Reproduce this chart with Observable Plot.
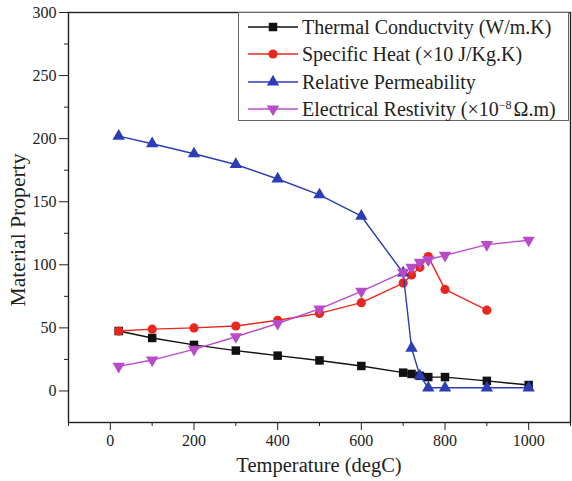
<!DOCTYPE html>
<html><head><meta charset="utf-8">
<script src="https://cdn.jsdelivr.net/npm/d3@7"></script>
<script src="https://cdn.jsdelivr.net/npm/@observablehq/plot@0.6"></script>
<style>
body{margin:0;background:#fff;}
#wrap{position:relative;width:572px;height:481px;font-family:"Liberation Serif","Times New Roman",serif;color:#222;}
#wrap svg text{font-family:"Liberation Serif","Times New Roman",serif;}
#legend{position:absolute;left:238px;top:12px;width:331px;height:109px;border:1px solid #666;box-sizing:border-box;background:#fff;padding-top:0px;}
.row{display:flex;align-items:center;height:27.5px;font-size:20px;white-space:nowrap;line-height:20px;}
.row svg{margin-left:9px;margin-right:4px;flex:none;}
.row sup{font-size:12px;line-height:0;vertical-align:7px;margin-right:2px;}
#xtitle{position:absolute;left:68px;width:502px;top:453px;text-align:center;font-size:20.5px;line-height:24px;}
#ytitle{position:absolute;left:18px;top:230px;font-size:20px;transform:translate(-50%,-50%) rotate(-90deg) scaleX(1.08);white-space:nowrap;}
</style></head><body><div id="wrap"></div>
<script>
// Series data
const seriesNames = ["Thermal Conductvity (W/m.K)", "Specific Heat (×10 J/Kg.K)", "Relative Permeability", "Electrical Restivity (×10<sup>−8</sup>Ω.m)"];
const seriesColors = ["#111111", "#e8281f", "#2c3db5", "#b84cc8"];

const thermalT = [20, 100, 200, 300, 400, 500, 600, 700, 720, 740, 760, 800, 900, 1000];
const thermalV = [47.5, 42, 36.5, 32, 28, 24.2, 19.8, 14.5, 13.5, 12, 11, 11, 8, 4.7];

const heatT = [20, 100, 200, 300, 400, 500, 600, 700, 720, 740, 760, 800, 900];
const heatV = [47.5, 49, 50, 51.5, 56, 61.5, 70, 85.5, 92, 98, 106.5, 80.5, 64];

const permT = [20, 100, 200, 300, 400, 500, 600, 700, 720, 740, 760, 800, 900, 1000];
const permV = [202, 196, 188, 179.5, 168, 155.5, 138.5, 93.5, 34, 12, 2.5, 2.5, 2.5, 2.5];

const resT = [20, 100, 200, 300, 400, 500, 600, 700, 720, 740, 760, 800, 900, 1000];
const resV = [19.5, 24.5, 33, 43, 53.5, 65, 79, 94, 98, 102, 104, 107.5, 116, 119.5];

const xMajorTicks = [0, 200, 400, 600, 800, 1000];
const xMinorTicks = [-100, 100, 300, 500, 700, 900, 1100];
const yMajorTicks = [0, 50, 100, 150, 200, 250, 300];
const yMinorTicks = [25, 75, 125, 175, 225, 275];

const triangleDown = {
  draw(context, size) {
    const s3 = Math.sqrt(3);
    const y = Math.sqrt(size / (s3 * 3));
    context.moveTo(0, y * 2);
    context.lineTo(-s3 * y, -y);
    context.lineTo(s3 * y, -y);
    context.closePath();
  }
};
const symbols = ["square", "circle", "triangle", triangleDown];
const radii = [4.8, 4.6, 4.6, 4.6];

const toRows = (T, V) => T.map((t, i) => ({t, v: V[i]}));
const series = [toRows(thermalT, thermalV), toRows(heatT, heatV), toRows(permT, permV), toRows(resT, resV)];

const marks = [];
series.forEach((rows, i) => {
  marks.push(Plot.line(rows, {x: "t", y: "v", stroke: seriesColors[i], strokeWidth: 1.4}));
  marks.push(Plot.dot(rows, {x: "t", y: "v", symbol: () => symbols[i], fill: seriesColors[i], stroke: "none", r: radii[i]}));
});

const fmt = d3.format("d");
const serif = "'Liberation Serif', 'Times New Roman', serif";
const chart = Plot.plot({
  width: 572, height: 481,
  marginLeft: 68, marginRight: 2, marginTop: 12, marginBottom: 59,
  style: {fontFamily: serif, fontSize: "16px", color: "#222", background: "#fff"},
  x: {domain: [-100, 1100]},
  y: {domain: [-25, 300]},
  symbol: {type: "identity"},
  marks: [
    Plot.axisX({ticks: xMajorTicks, tickSize: 8, tickPadding: 4, fontSize: 16, fontFamily: serif, tickFormat: fmt, label: null}),
    Plot.axisX({ticks: xMinorTicks, tickSize: 4, tickFormat: () => "", label: null}),
    Plot.axisY({ticks: yMajorTicks, tickSize: 9, tickPadding: 3, fontSize: 16, fontFamily: serif, tickFormat: fmt, label: null}),
    Plot.axisY({ticks: yMinorTicks, tickSize: 4, tickFormat: () => "", label: null}),
    ...marks,
    Plot.frame({stroke: "#222", strokeWidth: 1.4})
  ]
});

const wrap = document.getElementById("wrap");
wrap.appendChild(chart);

const xt = document.createElement("div"); xt.id = "xtitle"; xt.textContent = "Temperature (degC)"; wrap.appendChild(xt);
const yt = document.createElement("div"); yt.id = "ytitle"; yt.textContent = "Material Property"; wrap.appendChild(yt);

const legend = document.createElement("div"); legend.id = "legend"; wrap.appendChild(legend);
seriesNames.forEach((name, i) => {
  const row = document.createElement("div"); row.className = "row";
  const svg = d3.create("svg").attr("width", 50).attr("height", 14);
  svg.append("line").attr("x1", 0).attr("x2", 50).attr("y1", 7).attr("y2", 7).attr("stroke", seriesColors[i]).attr("stroke-width", 1.4);
  const symType = typeof symbols[i] === "string" ? {square: d3.symbolSquare, circle: d3.symbolCircle, triangle: d3.symbolTriangle}[symbols[i]] : symbols[i];
  svg.append("path").attr("transform", "translate(25,7)").attr("d", d3.symbol(symType, radii[i] * radii[i] * Math.PI)()).attr("fill", seriesColors[i]);
  row.appendChild(svg.node());
  const span = document.createElement("span"); span.innerHTML = name;
  row.appendChild(span);
  legend.appendChild(row);
});
</script>
</body></html>
